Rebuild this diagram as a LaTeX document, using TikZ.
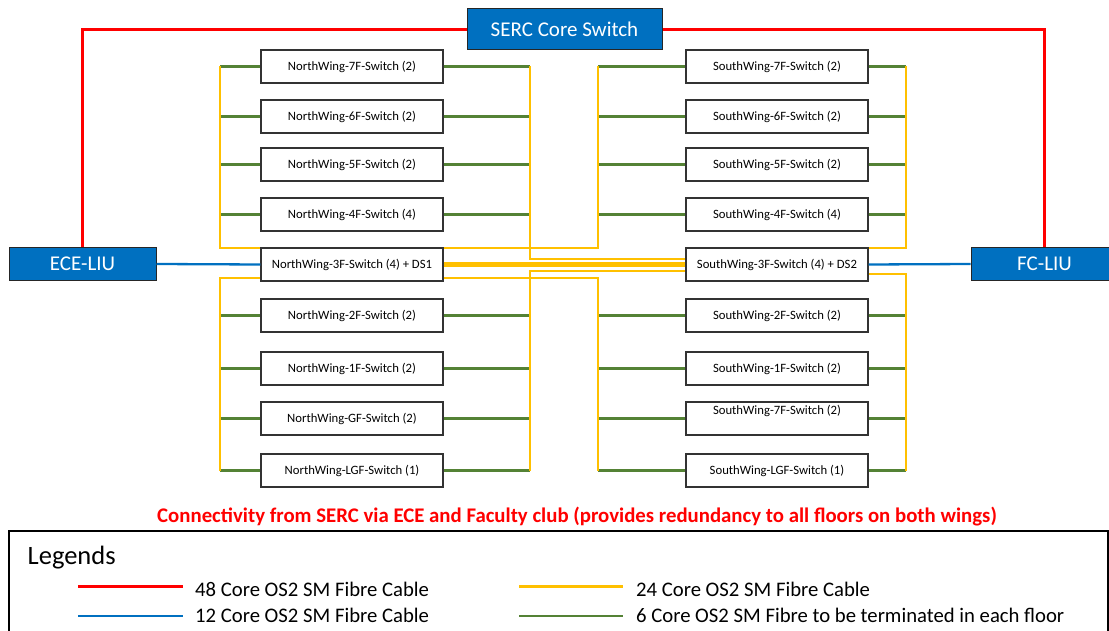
\documentclass[tikz,border=0pt]{standalone}
\usepackage{fontspec}
\setmainfont{Carlito}
\definecolor{coreRed}{HTML}{FF0000}
\definecolor{coreBlue}{HTML}{0070C0}
\definecolor{coreYellow}{HTML}{FFC000}
\definecolor{coreGreen}{HTML}{548235}
\tikzset{
	swbox/.style={draw=black!80, line width=1.3pt, fill=white, minimum width=182pt,
			minimum height=33pt, inner sep=0pt, font=\fontsize{12.7}{14}\selectfont},
	liubox/.style={draw=black!85, line width=1pt, fill=coreBlue, text=white,
			inner sep=0pt, font=\fontsize{21}{24}\selectfont},
	c48/.style={coreRed, line width=2.3pt},
	c24/.style={coreYellow, line width=2.3pt},
	c12/.style={coreBlue, line width=2.3pt},
	c6/.style={coreGreen, line width=2.5pt},
	legtext/.style={font=\fontsize{20.7}{22}\selectfont, inner sep=0pt},
}
\begin{document}
\begin{tikzpicture}[x=1pt, y=-1pt]
			\useasboundingbox (0,0) rectangle (1109,631);

			% Column positions (pixels, y grows downwards)
			\pgfmathsetmacro{\nx}{352}
			\pgfmathsetmacro{\sx}{777}

			% Core and LIU boxes
			\node[liubox, minimum width=195pt, minimum height=41pt] (serc) at (564.5,29.5)
			{SERC Core Switch};
			\node[liubox, minimum width=147pt, minimum height=32.5pt] (ece) at (82.5,264)
			{ECE-LIU};
			\node[liubox, minimum width=147pt, minimum height=32.5pt] (fc) at (1044.5,264)
			{FC-LIU};

			% North wing switches
			\node[swbox] (nw7) at (\nx,66.5) {NorthWing-7F-Switch (2)};
			\node[swbox] (nw6) at (\nx,116.5) {NorthWing-6F-Switch (2)};
			\node[swbox] (nw5) at (\nx,164.5) {NorthWing-5F-Switch (2)};
			\node[swbox] (nw4) at (\nx,214.5) {NorthWing-4F-Switch (4)};
			\node[swbox] (nw3) at (\nx,264.5) {NorthWing-3F-Switch (4) + DS1};
			\node[swbox] (nw2) at (\nx,315.5) {NorthWing-2F-Switch (2)};
			\node[swbox] (nw1) at (\nx,368.5) {NorthWing-1F-Switch (2)};
			\node[swbox] (nwG) at (\nx,418.5) {NorthWing-GF-Switch (2)};
			\node[swbox] (nwLG) at (\nx,470.5) {NorthWing-LGF-Switch (1)};

			% South wing switches
			\node[swbox] (sw7) at (\sx,66.5) {SouthWing-7F-Switch (2)};
			\node[swbox] (sw6) at (\sx,116.5) {SouthWing-6F-Switch (2)};
			\node[swbox] (sw5) at (\sx,164.5) {SouthWing-5F-Switch (2)};
			\node[swbox] (sw4) at (\sx,214.5) {SouthWing-4F-Switch (4)};
			\node[swbox] (sw3) at (\sx,264.5) {SouthWing-3F-Switch (4) + DS2};
			\node[swbox] (sw2) at (\sx,315.5) {SouthWing-2F-Switch (2)};
			\node[swbox] (sw1) at (\sx,368.5) {SouthWing-1F-Switch (2)};
			\node[swbox, text depth=18pt] (swG) at (\sx,418.5) {SouthWing-7F-Switch (2)};
			\node[swbox] (swLG) at (\sx,470.5) {SouthWing-LGF-Switch (1)};

			% Bus corners
			\coordinate (ntl) at (220,248);
			\coordinate (nbl) at (220,278);
			\coordinate (ntr) at (530,259);
			\coordinate (nbr) at (530,271);
			\coordinate (stl) at (598,248);
			\coordinate (sbl) at (598,278);
			\coordinate (str) at (906,248);
			\coordinate (sbr) at (906,274);

			% 48 core links
			\draw[c48] (serc.west) -| (ece.north);
			\draw[c48] (serc.east) -| (fc.north);

			% 12 core links
			\draw[c12] (ece.east) -- (nw3.west);
			\draw[c12] (sw3.east) -- (fc.west);

			% 6 core stubs on every floor
			\foreach \f in {7,6,5,4,2,1,G,LG} {
					\draw[c6] (nw\f.west -| ntl) -- (nw\f.west);
					\draw[c6] (nw\f.east) -- (nw\f.east -| ntr);
					\draw[c6] (sw\f.west -| stl) -- (sw\f.west);
					\draw[c6] (sw\f.east) -- (sw\f.east -| str);
				}

			% 24 core risers
			\draw[c24] (nw7.west -| ntl) -- (ntl) -- (ntl -| nw3.west);
			\draw[c24] (nwLG.west -| nbl) -- (nbl) -- (nbl -| nw3.west);
			\draw[c24] (nw7.east -| ntr) -- (ntr) -- (ntr -| sw3.west);
			\draw[c24] (nwLG.east -| nbr) -- (nbr) -- (nbr -| sw3.west);
			\draw[c24] (sw7.west -| stl) -- (stl) -- (stl -| nw3.east);
			\draw[c24] (swLG.west -| sbl) -- (sbl) -- (sbl -| nw3.east);
			\draw[c24] (sw7.east -| str) -- (str) -- (str -| sw3.east);
			\draw[c24] (swLG.east -| sbr) -- (sbr) -- (sbr -| sw3.east);
			\draw[c24] ([yshift=0.9pt]nw3.east) -- ([yshift=0.9pt]sw3.west); % DS1 - DS2
			\draw[c24] ([yshift=-0.9pt]nw3.east) -- ([yshift=-0.9pt]sw3.west);

			% Note
			\node[font=\bfseries\fontsize{20.8}{23}\selectfont, text=coreRed] (note) at (577,517)
			{Connectivity from SERC via ECE and Faculty club (provides redundancy to all floors on both wings)};

			% Legend
			\node[draw, line width=2pt, minimum width=1099pt, minimum height=120pt,
				anchor=north west] (legend) at (8,530) {};
			\node[font=\fontsize{26.5}{28}\selectfont, inner sep=0pt, anchor=base west] (legtitle)
			at (27.5,564) {Legends};
			\coordinate (l48a) at (78,586.5);
			\coordinate (l48b) at (183,586.5);
			\coordinate (l12a) at (78,616);
			\coordinate (l12b) at (183,616);
			\coordinate (l24a) at (519,586.5);
			\coordinate (l24b) at (623,586.5);
			\coordinate (l6a) at (519,616);
			\coordinate (l6b) at (623,616);
			\draw[c48, line width=2.8pt] (l48a) -- (l48b);
			\draw[c12, line width=2.8pt] (l12a) -- (l12b);
			\draw[c24, line width=2.8pt] (l24a) -- (l24b);
			\draw[c6, line width=2.8pt] (l6a) -- (l6b);
			\node[legtext, anchor=base west] (t48) at (195,596) {48 Core OS2 SM Fibre Cable};
			\node[legtext, anchor=base west] (t12) at (195,622) {12 Core OS2 SM Fibre Cable};
			\node[legtext, anchor=base west] (t24) at (636,596) {24 Core OS2 SM Fibre Cable};
			\node[legtext, anchor=base west] (t6) at (636,622)
			{6 Core OS2 SM Fibre to be terminated in each floor};
		\end{tikzpicture}
\end{document}
